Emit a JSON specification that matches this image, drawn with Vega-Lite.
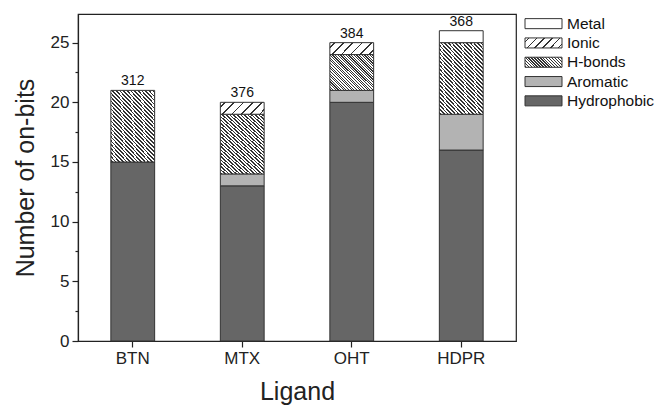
{
  "$schema": "https://vega.github.io/schema/vega-lite/v6.json",
  "padding": {"left": 12, "top": 13, "right": 0, "bottom": 0},
  "background": "white",
  "spacing": 7,
  "config": {
    "font": "Liberation Sans",
    "view": {"stroke": "#222", "strokeWidth": 1.2},
    "axis": {
      "domainColor": "#222", "tickColor": "#222", "labelColor": "#222", "titleColor": "#222",
      "grid": false, "labelFont": "Liberation Sans", "titleFont": "Liberation Sans",
      "titleFontWeight": "normal", "labelFontSize": 17, "titleFontSize": 25,
      "tickSize": 6, "domainWidth": 1.2, "tickWidth": 1.2, "labelPadding": 3
    }
  },
  "hconcat": [
    {
      "width": 438,
      "height": 327,
      "resolve": {"axis": {"y": "independent"}},
      "layer": [
        {
          "data": {"values": [
            {"Ligand": "BTN", "Type": "Hydrophobic", "Count": 15},
            {"Ligand": "BTN", "Type": "H-bonds", "Count": 6},
            {"Ligand": "MTX", "Type": "Hydrophobic", "Count": 13},
            {"Ligand": "MTX", "Type": "Aromatic", "Count": 1},
            {"Ligand": "MTX", "Type": "H-bonds", "Count": 5},
            {"Ligand": "MTX", "Type": "Ionic", "Count": 1},
            {"Ligand": "OHT", "Type": "Hydrophobic", "Count": 20},
            {"Ligand": "OHT", "Type": "Aromatic", "Count": 1},
            {"Ligand": "OHT", "Type": "H-bonds", "Count": 3},
            {"Ligand": "OHT", "Type": "Ionic", "Count": 1},
            {"Ligand": "HDPR", "Type": "Hydrophobic", "Count": 16},
            {"Ligand": "HDPR", "Type": "Aromatic", "Count": 3},
            {"Ligand": "HDPR", "Type": "H-bonds", "Count": 6},
            {"Ligand": "HDPR", "Type": "Metal", "Count": 1}
          ]},
          "transform": [{"calculate": "indexof(['Hydrophobic','Aromatic','H-bonds','Ionic','Metal'], datum.Type)", "as": "k"}],
          "mark": {"type": "bar", "stroke": "#333", "strokeWidth": 1},
          "encoding": {
            "x": {"field": "Ligand", "type": "nominal", "sort": ["BTN", "MTX", "OHT", "HDPR"],
                  "scale": {"paddingInner": 0.6, "paddingOuter": 0.3},
                  "axis": {"labelAngle": 0, "title": "Ligand", "titlePadding": 13}},
            "y": {"field": "Count", "type": "quantitative", "stack": "zero",
                  "scale": {"domain": [0, 27.4], "nice": false, "zero": true},
                  "axis": {"values": [0, 5, 10, 15, 20, 25], "title": "Number of on-bits", "titlePadding": 12, "orient": "left"}},
            "order": {"field": "k", "type": "quantitative", "sort": "ascending"},
            "fill": {"field": "Type", "type": "nominal",
              "scale": {
                "domain": ["Metal", "Ionic", "H-bonds", "Aromatic", "Hydrophobic"],
                "range": ["#ffffff", "#ffffff", "#ffffff", "#b3b3b3", "#666666"]
              },
              "legend": null,
              "condition": [
                {"test": "datum.Type === 'Ionic'", "value":
                  {"gradient": "linear", "x1": 0, "y1": 0, "x2": 1.184, "y2": 0.32, "stops": [
                    {"offset": 0, "color": "#fff"},
                    {"offset": 0.07, "color": "#fff"}, {"offset": 0.07, "color": "#333"}, {"offset": 0.1, "color": "#333"}, {"offset": 0.1, "color": "#fff"},
                    {"offset": 0.2367, "color": "#fff"}, {"offset": 0.2367, "color": "#333"}, {"offset": 0.2667, "color": "#333"}, {"offset": 0.2667, "color": "#fff"},
                    {"offset": 0.4033, "color": "#fff"}, {"offset": 0.4033, "color": "#333"}, {"offset": 0.4333, "color": "#333"}, {"offset": 0.4333, "color": "#fff"},
                    {"offset": 0.57, "color": "#fff"}, {"offset": 0.57, "color": "#333"}, {"offset": 0.6, "color": "#333"}, {"offset": 0.6, "color": "#fff"},
                    {"offset": 0.7367, "color": "#fff"}, {"offset": 0.7367, "color": "#333"}, {"offset": 0.7667, "color": "#333"}, {"offset": 0.7667, "color": "#fff"},
                    {"offset": 0.9033, "color": "#fff"}, {"offset": 0.9033, "color": "#333"}, {"offset": 0.9333, "color": "#333"}, {"offset": 0.9333, "color": "#fff"},
                    {"offset": 1, "color": "#fff"}
                  ]}
                },
                {"test": "datum.Type === 'H-bonds' && datum.Ligand === 'OHT'", "value":
                  {"gradient": "linear", "x1": 0, "y1": 1, "x2": 1.088, "y2": 0.108, "stops": [
                    {"offset": 0, "color": "#fff"},
                    {"offset": 0.005, "color": "#fff"}, {"offset": 0.005, "color": "#333"}, {"offset": 0.02, "color": "#333"}, {"offset": 0.02, "color": "#fff"},
                    {"offset": 0.0383, "color": "#fff"}, {"offset": 0.0383, "color": "#333"}, {"offset": 0.0533, "color": "#333"}, {"offset": 0.0533, "color": "#fff"},
                    {"offset": 0.0717, "color": "#fff"}, {"offset": 0.0717, "color": "#333"}, {"offset": 0.0867, "color": "#333"}, {"offset": 0.0867, "color": "#fff"},
                    {"offset": 0.105, "color": "#fff"}, {"offset": 0.105, "color": "#333"}, {"offset": 0.12, "color": "#333"}, {"offset": 0.12, "color": "#fff"},
                    {"offset": 0.1383, "color": "#fff"}, {"offset": 0.1383, "color": "#333"}, {"offset": 0.1533, "color": "#333"}, {"offset": 0.1533, "color": "#fff"},
                    {"offset": 0.1717, "color": "#fff"}, {"offset": 0.1717, "color": "#333"}, {"offset": 0.1867, "color": "#333"}, {"offset": 0.1867, "color": "#fff"},
                    {"offset": 0.205, "color": "#fff"}, {"offset": 0.205, "color": "#333"}, {"offset": 0.22, "color": "#333"}, {"offset": 0.22, "color": "#fff"},
                    {"offset": 0.2383, "color": "#fff"}, {"offset": 0.2383, "color": "#333"}, {"offset": 0.2533, "color": "#333"}, {"offset": 0.2533, "color": "#fff"},
                    {"offset": 0.2717, "color": "#fff"}, {"offset": 0.2717, "color": "#333"}, {"offset": 0.2867, "color": "#333"}, {"offset": 0.2867, "color": "#fff"},
                    {"offset": 0.305, "color": "#fff"}, {"offset": 0.305, "color": "#333"}, {"offset": 0.32, "color": "#333"}, {"offset": 0.32, "color": "#fff"},
                    {"offset": 0.3383, "color": "#fff"}, {"offset": 0.3383, "color": "#333"}, {"offset": 0.3533, "color": "#333"}, {"offset": 0.3533, "color": "#fff"},
                    {"offset": 0.3717, "color": "#fff"}, {"offset": 0.3717, "color": "#333"}, {"offset": 0.3867, "color": "#333"}, {"offset": 0.3867, "color": "#fff"},
                    {"offset": 0.405, "color": "#fff"}, {"offset": 0.405, "color": "#333"}, {"offset": 0.42, "color": "#333"}, {"offset": 0.42, "color": "#fff"},
                    {"offset": 0.4383, "color": "#fff"}, {"offset": 0.4383, "color": "#333"}, {"offset": 0.4533, "color": "#333"}, {"offset": 0.4533, "color": "#fff"},
                    {"offset": 0.4717, "color": "#fff"}, {"offset": 0.4717, "color": "#333"}, {"offset": 0.4867, "color": "#333"}, {"offset": 0.4867, "color": "#fff"},
                    {"offset": 0.505, "color": "#fff"}, {"offset": 0.505, "color": "#333"}, {"offset": 0.52, "color": "#333"}, {"offset": 0.52, "color": "#fff"},
                    {"offset": 0.5383, "color": "#fff"}, {"offset": 0.5383, "color": "#333"}, {"offset": 0.5533, "color": "#333"}, {"offset": 0.5533, "color": "#fff"},
                    {"offset": 0.5717, "color": "#fff"}, {"offset": 0.5717, "color": "#333"}, {"offset": 0.5867, "color": "#333"}, {"offset": 0.5867, "color": "#fff"},
                    {"offset": 0.605, "color": "#fff"}, {"offset": 0.605, "color": "#333"}, {"offset": 0.62, "color": "#333"}, {"offset": 0.62, "color": "#fff"},
                    {"offset": 0.6383, "color": "#fff"}, {"offset": 0.6383, "color": "#333"}, {"offset": 0.6533, "color": "#333"}, {"offset": 0.6533, "color": "#fff"},
                    {"offset": 0.6717, "color": "#fff"}, {"offset": 0.6717, "color": "#333"}, {"offset": 0.6867, "color": "#333"}, {"offset": 0.6867, "color": "#fff"},
                    {"offset": 0.705, "color": "#fff"}, {"offset": 0.705, "color": "#333"}, {"offset": 0.72, "color": "#333"}, {"offset": 0.72, "color": "#fff"},
                    {"offset": 0.7383, "color": "#fff"}, {"offset": 0.7383, "color": "#333"}, {"offset": 0.7533, "color": "#333"}, {"offset": 0.7533, "color": "#fff"},
                    {"offset": 0.7717, "color": "#fff"}, {"offset": 0.7717, "color": "#333"}, {"offset": 0.7867, "color": "#333"}, {"offset": 0.7867, "color": "#fff"},
                    {"offset": 0.805, "color": "#fff"}, {"offset": 0.805, "color": "#333"}, {"offset": 0.82, "color": "#333"}, {"offset": 0.82, "color": "#fff"},
                    {"offset": 0.8383, "color": "#fff"}, {"offset": 0.8383, "color": "#333"}, {"offset": 0.8533, "color": "#333"}, {"offset": 0.8533, "color": "#fff"},
                    {"offset": 0.8717, "color": "#fff"}, {"offset": 0.8717, "color": "#333"}, {"offset": 0.8867, "color": "#333"}, {"offset": 0.8867, "color": "#fff"},
                    {"offset": 0.905, "color": "#fff"}, {"offset": 0.905, "color": "#333"}, {"offset": 0.92, "color": "#333"}, {"offset": 0.92, "color": "#fff"},
                    {"offset": 0.9383, "color": "#fff"}, {"offset": 0.9383, "color": "#333"}, {"offset": 0.9533, "color": "#333"}, {"offset": 0.9533, "color": "#fff"},
                    {"offset": 0.9717, "color": "#fff"}, {"offset": 0.9717, "color": "#333"}, {"offset": 0.9867, "color": "#333"}, {"offset": 0.9867, "color": "#fff"},
                    {"offset": 1, "color": "#fff"}
                  ]}
                },
                {"test": "datum.Type === 'H-bonds'", "value":
                  {"gradient": "linear", "x1": 0, "y1": 1, "x2": 0.769, "y2": -0.154, "stops": [
                    {"offset": 0, "color": "#fff"},
                    {"offset": 0.005, "color": "#fff"}, {"offset": 0.005, "color": "#333"}, {"offset": 0.02, "color": "#333"}, {"offset": 0.02, "color": "#fff"},
                    {"offset": 0.0383, "color": "#fff"}, {"offset": 0.0383, "color": "#333"}, {"offset": 0.0533, "color": "#333"}, {"offset": 0.0533, "color": "#fff"},
                    {"offset": 0.0717, "color": "#fff"}, {"offset": 0.0717, "color": "#333"}, {"offset": 0.0867, "color": "#333"}, {"offset": 0.0867, "color": "#fff"},
                    {"offset": 0.105, "color": "#fff"}, {"offset": 0.105, "color": "#333"}, {"offset": 0.12, "color": "#333"}, {"offset": 0.12, "color": "#fff"},
                    {"offset": 0.1383, "color": "#fff"}, {"offset": 0.1383, "color": "#333"}, {"offset": 0.1533, "color": "#333"}, {"offset": 0.1533, "color": "#fff"},
                    {"offset": 0.1717, "color": "#fff"}, {"offset": 0.1717, "color": "#333"}, {"offset": 0.1867, "color": "#333"}, {"offset": 0.1867, "color": "#fff"},
                    {"offset": 0.205, "color": "#fff"}, {"offset": 0.205, "color": "#333"}, {"offset": 0.22, "color": "#333"}, {"offset": 0.22, "color": "#fff"},
                    {"offset": 0.2383, "color": "#fff"}, {"offset": 0.2383, "color": "#333"}, {"offset": 0.2533, "color": "#333"}, {"offset": 0.2533, "color": "#fff"},
                    {"offset": 0.2717, "color": "#fff"}, {"offset": 0.2717, "color": "#333"}, {"offset": 0.2867, "color": "#333"}, {"offset": 0.2867, "color": "#fff"},
                    {"offset": 0.305, "color": "#fff"}, {"offset": 0.305, "color": "#333"}, {"offset": 0.32, "color": "#333"}, {"offset": 0.32, "color": "#fff"},
                    {"offset": 0.3383, "color": "#fff"}, {"offset": 0.3383, "color": "#333"}, {"offset": 0.3533, "color": "#333"}, {"offset": 0.3533, "color": "#fff"},
                    {"offset": 0.3717, "color": "#fff"}, {"offset": 0.3717, "color": "#333"}, {"offset": 0.3867, "color": "#333"}, {"offset": 0.3867, "color": "#fff"},
                    {"offset": 0.405, "color": "#fff"}, {"offset": 0.405, "color": "#333"}, {"offset": 0.42, "color": "#333"}, {"offset": 0.42, "color": "#fff"},
                    {"offset": 0.4383, "color": "#fff"}, {"offset": 0.4383, "color": "#333"}, {"offset": 0.4533, "color": "#333"}, {"offset": 0.4533, "color": "#fff"},
                    {"offset": 0.4717, "color": "#fff"}, {"offset": 0.4717, "color": "#333"}, {"offset": 0.4867, "color": "#333"}, {"offset": 0.4867, "color": "#fff"},
                    {"offset": 0.505, "color": "#fff"}, {"offset": 0.505, "color": "#333"}, {"offset": 0.52, "color": "#333"}, {"offset": 0.52, "color": "#fff"},
                    {"offset": 0.5383, "color": "#fff"}, {"offset": 0.5383, "color": "#333"}, {"offset": 0.5533, "color": "#333"}, {"offset": 0.5533, "color": "#fff"},
                    {"offset": 0.5717, "color": "#fff"}, {"offset": 0.5717, "color": "#333"}, {"offset": 0.5867, "color": "#333"}, {"offset": 0.5867, "color": "#fff"},
                    {"offset": 0.605, "color": "#fff"}, {"offset": 0.605, "color": "#333"}, {"offset": 0.62, "color": "#333"}, {"offset": 0.62, "color": "#fff"},
                    {"offset": 0.6383, "color": "#fff"}, {"offset": 0.6383, "color": "#333"}, {"offset": 0.6533, "color": "#333"}, {"offset": 0.6533, "color": "#fff"},
                    {"offset": 0.6717, "color": "#fff"}, {"offset": 0.6717, "color": "#333"}, {"offset": 0.6867, "color": "#333"}, {"offset": 0.6867, "color": "#fff"},
                    {"offset": 0.705, "color": "#fff"}, {"offset": 0.705, "color": "#333"}, {"offset": 0.72, "color": "#333"}, {"offset": 0.72, "color": "#fff"},
                    {"offset": 0.7383, "color": "#fff"}, {"offset": 0.7383, "color": "#333"}, {"offset": 0.7533, "color": "#333"}, {"offset": 0.7533, "color": "#fff"},
                    {"offset": 0.7717, "color": "#fff"}, {"offset": 0.7717, "color": "#333"}, {"offset": 0.7867, "color": "#333"}, {"offset": 0.7867, "color": "#fff"},
                    {"offset": 0.805, "color": "#fff"}, {"offset": 0.805, "color": "#333"}, {"offset": 0.82, "color": "#333"}, {"offset": 0.82, "color": "#fff"},
                    {"offset": 0.8383, "color": "#fff"}, {"offset": 0.8383, "color": "#333"}, {"offset": 0.8533, "color": "#333"}, {"offset": 0.8533, "color": "#fff"},
                    {"offset": 0.8717, "color": "#fff"}, {"offset": 0.8717, "color": "#333"}, {"offset": 0.8867, "color": "#333"}, {"offset": 0.8867, "color": "#fff"},
                    {"offset": 0.905, "color": "#fff"}, {"offset": 0.905, "color": "#333"}, {"offset": 0.92, "color": "#333"}, {"offset": 0.92, "color": "#fff"},
                    {"offset": 0.9383, "color": "#fff"}, {"offset": 0.9383, "color": "#333"}, {"offset": 0.9533, "color": "#333"}, {"offset": 0.9533, "color": "#fff"},
                    {"offset": 0.9717, "color": "#fff"}, {"offset": 0.9717, "color": "#333"}, {"offset": 0.9867, "color": "#333"}, {"offset": 0.9867, "color": "#fff"},
                    {"offset": 1, "color": "#fff"}
                  ]}
                }
              ]
            }
          }
        },
        {
          "data": {"values": [{"v": 0}]},
          "mark": {"type": "point", "opacity": 0},
          "encoding": {
            "y": {"field": "v", "type": "quantitative",
                  "axis": {"orient": "left", "values": [2.5, 7.5, 12.5, 17.5, 22.5], "labels": false, "domain": false, "tickSize": 3, "title": null}}
          }
        },
        {
          "data": {"values": [
            {"Ligand": "BTN", "Total": 21, "Label": "312"},
            {"Ligand": "MTX", "Total": 20, "Label": "376"},
            {"Ligand": "OHT", "Total": 25, "Label": "384"},
            {"Ligand": "HDPR", "Total": 26, "Label": "368"}
          ]},
          "mark": {"type": "text", "fontSize": 14, "baseline": "alphabetic", "dy": -5, "color": "#111", "font": "Liberation Sans"},
          "encoding": {
            "x": {"field": "Ligand", "type": "nominal", "sort": ["BTN", "MTX", "OHT", "HDPR"]},
            "y": {"field": "Total", "type": "quantitative", "axis": null},
            "text": {"field": "Label"}
          }
        }
      ]
    },
    {
      "width": 130,
      "height": 96.5,
      "view": {"stroke": null},
      "data": {"values": [
        {"Type": "Metal"},
        {"Type": "Ionic"},
        {"Type": "H-bonds"},
        {"Type": "Aromatic"},
        {"Type": "Hydrophobic"}
      ]},
      "encoding": {
        "y": {"field": "Type", "type": "nominal", "sort": ["Metal", "Ionic", "H-bonds", "Aromatic", "Hydrophobic"],
              "scale": {"paddingInner": 0.48, "paddingOuter": 0.24}, "axis": null}
      },
      "layer": [
        {
          "mark": {"type": "bar", "stroke": "#333", "strokeWidth": 1},
          "encoding": {
            "x": {"datum": 0, "type": "quantitative", "scale": {"domain": [0, 130], "nice": false}, "axis": null},
            "x2": {"datum": 37},
            "fill": {
              "condition": [
                {"test": "datum.Type === 'Ionic'", "value":
                  {"gradient": "linear", "x1": 0, "y1": 0, "x2": 1.184, "y2": 0.32, "stops": [
                    {"offset": 0, "color": "#fff"},
                    {"offset": 0.07, "color": "#fff"}, {"offset": 0.07, "color": "#333"}, {"offset": 0.1, "color": "#333"}, {"offset": 0.1, "color": "#fff"},
                    {"offset": 0.2367, "color": "#fff"}, {"offset": 0.2367, "color": "#333"}, {"offset": 0.2667, "color": "#333"}, {"offset": 0.2667, "color": "#fff"},
                    {"offset": 0.4033, "color": "#fff"}, {"offset": 0.4033, "color": "#333"}, {"offset": 0.4333, "color": "#333"}, {"offset": 0.4333, "color": "#fff"},
                    {"offset": 0.57, "color": "#fff"}, {"offset": 0.57, "color": "#333"}, {"offset": 0.6, "color": "#333"}, {"offset": 0.6, "color": "#fff"},
                    {"offset": 0.7367, "color": "#fff"}, {"offset": 0.7367, "color": "#333"}, {"offset": 0.7667, "color": "#333"}, {"offset": 0.7667, "color": "#fff"},
                    {"offset": 0.9033, "color": "#fff"}, {"offset": 0.9033, "color": "#333"}, {"offset": 0.9333, "color": "#333"}, {"offset": 0.9333, "color": "#fff"},
                    {"offset": 1, "color": "#fff"}
                  ]}
                },
                {"test": "datum.Type === 'H-bonds'", "value":
                  {"gradient": "linear", "x1": 0, "y1": 1, "x2": 1.184, "y2": 0.68, "stops": [
                    {"offset": 0, "color": "#fff"},
                    {"offset": 0.01, "color": "#fff"}, {"offset": 0.01, "color": "#333"}, {"offset": 0.038, "color": "#333"}, {"offset": 0.038, "color": "#fff"},
                    {"offset": 0.0725, "color": "#fff"}, {"offset": 0.0725, "color": "#333"}, {"offset": 0.1005, "color": "#333"}, {"offset": 0.1005, "color": "#fff"},
                    {"offset": 0.135, "color": "#fff"}, {"offset": 0.135, "color": "#333"}, {"offset": 0.163, "color": "#333"}, {"offset": 0.163, "color": "#fff"},
                    {"offset": 0.1975, "color": "#fff"}, {"offset": 0.1975, "color": "#333"}, {"offset": 0.2255, "color": "#333"}, {"offset": 0.2255, "color": "#fff"},
                    {"offset": 0.26, "color": "#fff"}, {"offset": 0.26, "color": "#333"}, {"offset": 0.288, "color": "#333"}, {"offset": 0.288, "color": "#fff"},
                    {"offset": 0.3225, "color": "#fff"}, {"offset": 0.3225, "color": "#333"}, {"offset": 0.3505, "color": "#333"}, {"offset": 0.3505, "color": "#fff"},
                    {"offset": 0.385, "color": "#fff"}, {"offset": 0.385, "color": "#333"}, {"offset": 0.413, "color": "#333"}, {"offset": 0.413, "color": "#fff"},
                    {"offset": 0.4475, "color": "#fff"}, {"offset": 0.4475, "color": "#333"}, {"offset": 0.4755, "color": "#333"}, {"offset": 0.4755, "color": "#fff"},
                    {"offset": 0.51, "color": "#fff"}, {"offset": 0.51, "color": "#333"}, {"offset": 0.538, "color": "#333"}, {"offset": 0.538, "color": "#fff"},
                    {"offset": 0.5725, "color": "#fff"}, {"offset": 0.5725, "color": "#333"}, {"offset": 0.6005, "color": "#333"}, {"offset": 0.6005, "color": "#fff"},
                    {"offset": 0.635, "color": "#fff"}, {"offset": 0.635, "color": "#333"}, {"offset": 0.663, "color": "#333"}, {"offset": 0.663, "color": "#fff"},
                    {"offset": 0.6975, "color": "#fff"}, {"offset": 0.6975, "color": "#333"}, {"offset": 0.7255, "color": "#333"}, {"offset": 0.7255, "color": "#fff"},
                    {"offset": 0.76, "color": "#fff"}, {"offset": 0.76, "color": "#333"}, {"offset": 0.788, "color": "#333"}, {"offset": 0.788, "color": "#fff"},
                    {"offset": 0.8225, "color": "#fff"}, {"offset": 0.8225, "color": "#333"}, {"offset": 0.8505, "color": "#333"}, {"offset": 0.8505, "color": "#fff"},
                    {"offset": 0.885, "color": "#fff"}, {"offset": 0.885, "color": "#333"}, {"offset": 0.913, "color": "#333"}, {"offset": 0.913, "color": "#fff"},
                    {"offset": 0.9475, "color": "#fff"}, {"offset": 0.9475, "color": "#333"}, {"offset": 0.9755, "color": "#333"}, {"offset": 0.9755, "color": "#fff"},
                    {"offset": 1, "color": "#fff"}
                  ]}
                },
                {"test": "datum.Type === 'Aromatic'", "value": "#b3b3b3"},
                {"test": "datum.Type === 'Hydrophobic'", "value": "#666666"}
              ],
              "value": "#ffffff"
            }
          }
        },
        {
          "mark": {"type": "text", "align": "left", "baseline": "middle", "fontSize": 15.5, "color": "#111", "font": "Liberation Sans"},
          "encoding": {
            "x": {"datum": 42, "type": "quantitative"},
            "text": {"field": "Type"}
          }
        }
      ]
    }
  ]
}
